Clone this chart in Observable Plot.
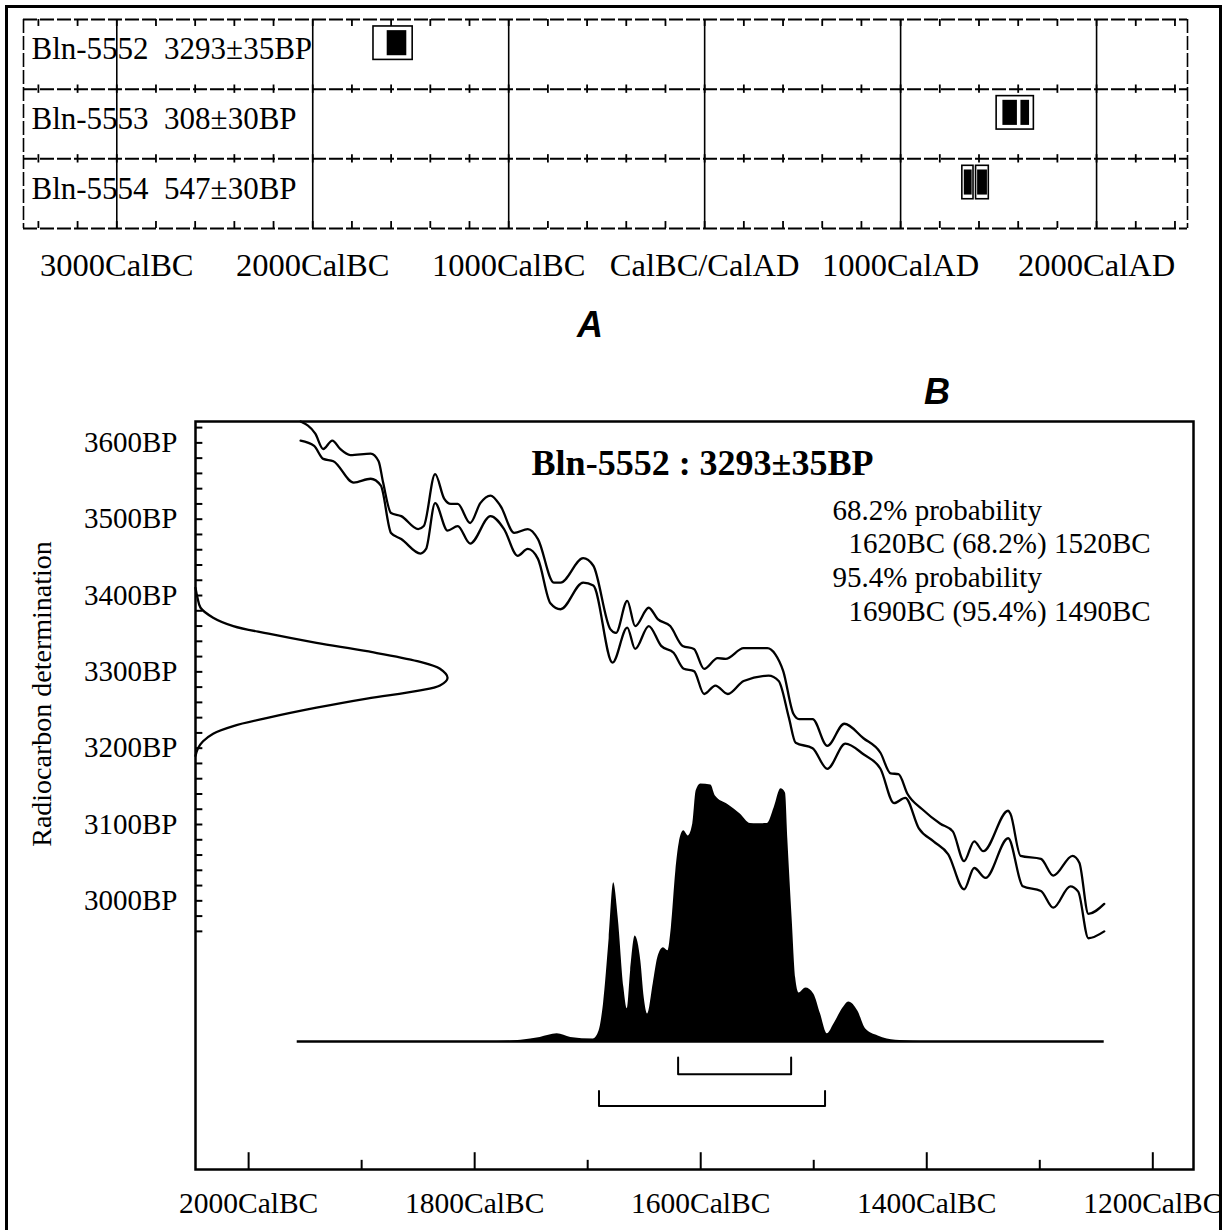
<!DOCTYPE html>
<html><head><meta charset="utf-8">
<script src="https://cdn.jsdelivr.net/npm/d3@7"></script>
<script src="https://cdn.jsdelivr.net/npm/@observablehq/plot@0.6"></script>
<style>
body{margin:0;background:#fff;}
#root{position:relative;width:1231px;height:1230px;overflow:hidden;background:#fff;font-family:"Liberation Serif","Times New Roman",serif;}
#root svg{position:absolute;left:0;overflow:visible;}
.border{position:absolute;left:5px;top:5px;width:1217px;height:1240px;border:3px solid #000;border-bottom:none;box-sizing:border-box;}
.panel{position:absolute;font-family:"Liberation Sans",Arial,sans-serif;font-weight:bold;font-style:italic;font-size:36px;line-height:1;transform:translate(-50%,-50%);}
.ytitle{position:absolute;font-family:"Liberation Serif","Times New Roman",serif;font-size:28px;line-height:1;white-space:nowrap;transform:translate(-50%,-50%) rotate(-90deg);}
</style></head>
<body><div id="root"><div class="border"></div></div>
<script>
// ---------- Panel A data ----------
const sampleLabels = ["Bln-5552\u00a0\u00a03293±35BP", "Bln-5553\u00a0\u00a0308±30BP", "Bln-5554\u00a0\u00a0547±30BP"];
const axisAYears = [-3000, -2000, -1000, 0, 1000, 2000];
const axisALabels = ["3000CalBC", "2000CalBC", "1000CalBC", "CalBC/CalAD", "1000CalAD", "2000CalAD"];
const range95Row = [0, 1, 2, 2];
const range95From = [-1690, 1490, 1315, 1385];
const range95To = [-1490, 1680, 1372, 1450];
const range68Row = [0, 1, 1, 2, 2];
const range68From = [-1620, 1522, 1614, 1325, 1393];
const range68To = [-1520, 1596, 1658, 1365, 1443];

// ---------- Panel B data ----------
const titleB = "Bln-5552 : 3293±35BP";
const yTitleB = "Radiocarbon determination";
const probLines = ["68.2% probability", "1620BC (68.2%) 1520BC", "95.4% probability", "1690BC (95.4%) 1490BC"];
const bpTicks = [3000, 3100, 3200, 3300, 3400, 3500, 3600];
const calTicks = [2000, 1800, 1600, 1400, 1200];
const calMinorTicks = [1900, 1700, 1500, 1300];
const upperCurve = [[1954,3628],[1941,3612],[1934,3592],[1926,3603],[1919,3592],[1910,3584],[1892,3586],[1885,3576],[1881,3548],[1874,3508],[1865,3504],[1850,3487],[1845,3491],[1835,3559],[1827,3527],[1821,3520],[1815,3520],[1804,3495],[1795,3521],[1786,3531],[1777,3517],[1765,3482],[1753,3487],[1744,3474],[1730,3417],[1724,3417],[1704,3449],[1695,3439],[1680,3356],[1675,3351],[1665,3393],[1658,3360],[1646,3384],[1638,3369],[1627,3360],[1616,3334],[1606,3330],[1597,3304],[1585,3318],[1578,3317],[1562,3331],[1541,3331],[1534,3323],[1527,3301],[1518,3245],[1513,3238],[1501,3238],[1488,3203],[1473,3232],[1456,3213],[1441,3194],[1432,3167],[1425,3166],[1417,3140],[1404,3120],[1388,3101],[1377,3091],[1367,3052],[1358,3078],[1350,3065],[1328,3118],[1326,3114],[1317,3059],[1299,3055],[1288,3033],[1271,3059],[1265,3050],[1257,2983],[1243,2996]];
const lowerCurve = [[1954,3603],[1942,3596],[1934,3579],[1925,3576],[1907,3548],[1892,3553],[1883,3544],[1874,3482],[1865,3474],[1848,3455],[1843,3461],[1835,3521],[1824,3485],[1815,3491],[1804,3468],[1786,3504],[1774,3487],[1762,3452],[1753,3461],[1744,3448],[1733,3390],[1724,3382],[1704,3417],[1695,3413],[1678,3312],[1665,3358],[1658,3330],[1646,3360],[1635,3334],[1624,3325],[1615,3304],[1606,3301],[1597,3271],[1587,3282],[1576,3271],[1562,3288],[1540,3295],[1531,3288],[1522,3240],[1516,3207],[1501,3200],[1488,3173],[1472,3206],[1456,3192],[1441,3173],[1429,3128],[1419,3135],[1407,3095],[1394,3078],[1381,3061],[1367,3015],[1358,3043],[1348,3030],[1328,3082],[1315,3019],[1299,3013],[1288,2991],[1273,3019],[1266,3012],[1257,2951],[1243,2960]];
// radiocarbon determination: [BP, relative probability]
const gaussCurve = [[3410,0],[3397,0.008],[3384,0.02],[3371,0.07],[3360,0.15],[3350,0.29],[3338,0.48],[3327,0.68],[3314,0.88],[3304,0.97],[3292,1.0],[3282,0.97],[3275,0.88],[3265,0.68],[3253,0.48],[3240,0.29],[3229,0.15],[3219,0.07],[3209,0.03],[3200,0.01],[3190,0]];
// calibrated distribution: [year BC, relative probability]
const distCurve = [[1780,0],[1759,0.005],[1742,0.016],[1727,0.03],[1715,0.016],[1695,0.01],[1690,0.04],[1686,0.146],[1681,0.40],[1677,0.616],[1673,0.48],[1668,0.21],[1665,0.127],[1662,0.274],[1658,0.41],[1653,0.313],[1650,0.17],[1647,0.107],[1642,0.224],[1638,0.325],[1633,0.364],[1629,0.352],[1626,0.441],[1622,0.662],[1619,0.771],[1615,0.818],[1611,0.798],[1607,0.845],[1604,0.973],[1600,1.0],[1591,0.996],[1587,0.953],[1576,0.92],[1565,0.883],[1556,0.846],[1550,0.845],[1541,0.846],[1535,0.907],[1529,0.981],[1525,0.965],[1523,0.79],[1519,0.468],[1516,0.247],[1513,0.189],[1507,0.208],[1500,0.185],[1494,0.107],[1488,0.03],[1482,0.069],[1474,0.131],[1469,0.154],[1461,0.119],[1454,0.049],[1443,0.022],[1435,0.01],[1420,0.003],[1405,0]];
const range68B = [1620, 1520];
const range95B = [1690, 1490];

// ---------- drawing ----------
const W = 1231;
const root = document.getElementById("root");
const serif = "'Liberation Serif','Times New Roman',serif";

// Panel A
const aX0 = -3476, aX1 = 2464;
const aTickYears = d3.range(-3400, 2401, 200);
const aTicks = [];
for (const t of aTickYears) {
  aTicks.push({x: t, y1: 0, y2: 0.1});
  aTicks.push({x: t, y1: 0.94, y2: 1.06});
  aTicks.push({x: t, y1: 1.94, y2: 2.06});
  aTicks.push({x: t, y1: 2.9, y2: 3});
}
const plotA = Plot.plot({
  width: W, height: 300,
  marginLeft: 23, marginRight: 44, marginTop: 19, marginBottom: 72,
  x: {domain: [aX0, aX1], axis: null},
  y: {domain: [0, 3], reverse: true, axis: null},
  style: {fontFamily: serif, background: "transparent", overflow: "visible"},
  marks: [
    Plot.ruleX(axisAYears, {x: d => d, strokeWidth: 1.6}),
    Plot.ruleX([aX0, aX1], {x: d => d, strokeWidth: 1.6, strokeDasharray: "14,3"}),
    Plot.ruleY([0, 1, 2, 3], {y: d => d, strokeWidth: 2, strokeDasharray: "14,3"}),
    Plot.ruleX(aTicks, {x: "x", y1: "y1", y2: "y2", strokeWidth: 1.8}),
    Plot.text(sampleLabels, {frameAnchor: "left", y: (d, i) => i + 0.43, dx: 8, textAnchor: "start", lineAnchor: "middle", fontSize: 31}),
    Plot.rect(range95Row, {x1: (d, i) => range95From[i], x2: (d, i) => range95To[i], y1: d => d + 0.1, y2: d => d + 0.58, fill: "white", stroke: "black", strokeWidth: 1.6}),
    Plot.rect(range68Row, {x1: (d, i) => range68From[i], x2: (d, i) => range68To[i], y1: d => d + 0.16, y2: d => d + 0.52, fill: "black"}),
    Plot.text(axisAYears, {x: d => d, text: (d, i) => axisALabels[i], frameAnchor: "bottom", dy: 37, lineAnchor: "middle", fontSize: 32.5})
  ]
});
plotA.style.top = "0px";
root.appendChild(plotA);

// Panel B
const bX0 = 2047, bX1 = 1164, bY0 = 2648, bY1 = 3628;
const distBase = 2815.6, distScale = 337.6;
const gaussScale = 223;
const bpMinor = d3.range(2960, 3621, 20);
const bracket = (r, top, bottom, k) => [[r[0], top, k], [r[0], bottom, k], [r[1], bottom, k], [r[1], top, k]];
const brackets = [...bracket(range68B, 2794.7, 2772.9, "68"), ...bracket(range95B, 2751, 2731.3, "95")];
const asc = arr => arr.slice().sort((a, b) => a[0] - b[0]);

const plotB = Plot.plot({
  width: W, height: 850,
  marginLeft: 195, marginRight: 38, marginTop: 41, marginBottom: 61,
  x: {domain: [bX0, bX1], axis: null},
  y: {domain: [bY0, bY1], axis: null},
  style: {fontFamily: serif, background: "transparent", overflow: "visible"},
  marks: [
    Plot.areaY(asc(distCurve), {x: d => d[0], y1: distBase, y2: d => distBase + d[1] * distScale, fill: "black", curve: "monotone-x"}),
    Plot.ruleY([distBase], {y: d => d, x1: 1957, x2: 1243, strokeWidth: 2.5}),
    Plot.line(brackets, {x: d => d[0], y: d => d[1], z: d => d[2], strokeWidth: 2}),
    Plot.line(asc(upperCurve), {x: d => d[0], y: d => d[1], strokeWidth: 2.3, curve: "monotone-x"}),
    Plot.line(asc(lowerCurve), {x: d => d[0], y: d => d[1], strokeWidth: 2.3, curve: "monotone-x"}),
    Plot.line(gaussCurve, {x: d => bX0 - d[1] * gaussScale, y: d => d[0], strokeWidth: 2.3, curve: "catmull-rom"}),
    Plot.ruleY(bpMinor, {y: d => d, x1: bX0, x2: bX0 - 6.5, strokeWidth: 2}),
    Plot.ruleX(calTicks, {x: d => d, y1: bY0, y2: bY0 + 22, strokeWidth: 2}),
    Plot.ruleX(calMinorTicks, {x: d => d, y1: bY0, y2: bY0 + 12, strokeWidth: 2}),
    Plot.frame({strokeWidth: 2.5}),
    Plot.text(bpTicks, {y: d => d, text: d => d + "BP", frameAnchor: "left", dx: -18, textAnchor: "end", lineAnchor: "middle", fontSize: 29}),
    Plot.text(calTicks, {x: d => d, text: d => d + "CalBC", frameAnchor: "bottom", dy: 34, lineAnchor: "middle", fontSize: 29.5}),
    Plot.text([titleB], {frameAnchor: "top", dx: 8, dy: 42, lineAnchor: "middle", fontSize: 36, fontWeight: "bold"}),
    ...probLines.map((t, i) => Plot.text([t], {frameAnchor: "top-left", dx: i % 2 ? 653 : 637, dy: 89 + i * 33.7, textAnchor: "start", lineAnchor: "middle", fontSize: 29}))
  ]
});
plotB.style.top = "380px";
root.appendChild(plotB);

// Y-axis title of panel B
const yt = document.createElement("div");
yt.className = "ytitle";
yt.textContent = yTitleB;
yt.style.left = "42px";
yt.style.top = "694px";
root.appendChild(yt);

// Panel letters
for (const [txt, x, y] of [["A", 590, 325], ["B", 937, 392]]) {
  const d = document.createElement("div");
  d.className = "panel";
  d.textContent = txt;
  d.style.left = x + "px";
  d.style.top = y + "px";
  root.appendChild(d);
}
</script>
</body></html>
